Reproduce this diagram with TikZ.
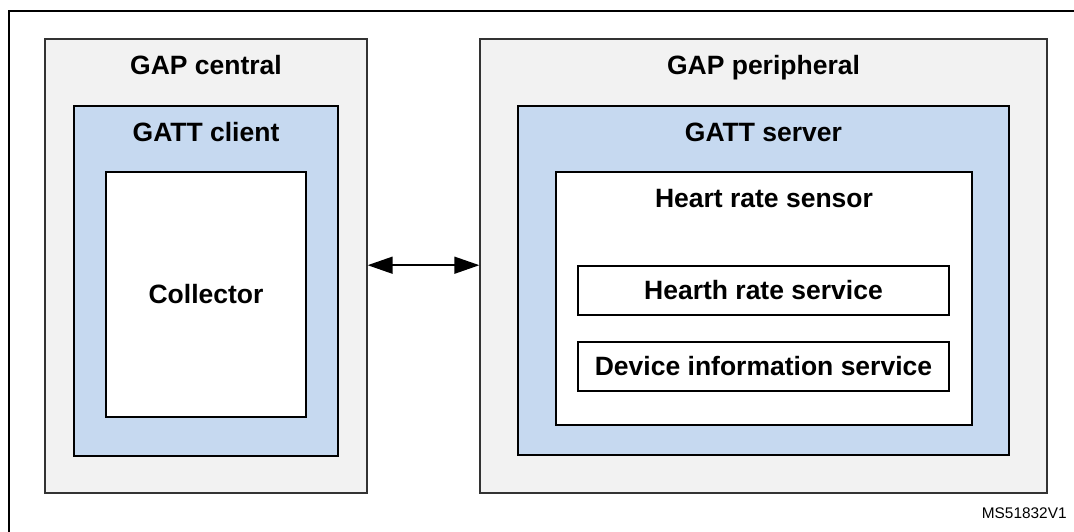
\documentclass[tikz,border=0pt]{standalone}
\usepackage{fontspec}
\setmainfont{Liberation Sans}
\usepackage{xcolor}
\usepackage{tikz}
\usetikzlibrary{arrows.meta}
\definecolor{gapgray}{HTML}{F2F2F2}
\definecolor{gattblue}{HTML}{C6D9F0}

\begin{document}
\begin{tikzpicture}[x=1pt,y=-1pt,thick]
    % `gapbox' is used for the two GAP roles (grey).
    % `gattbox' is used for the GATT client/server (blue).
    % `appbox' is used for the white boxes inside them.
    \tikzstyle{gapbox} = [draw=black!80,fill=gapgray,line width=1.3pt,inner sep=0pt]
    \tikzstyle{gattbox} = [draw=black,fill=gattblue,line width=1.6pt,inner sep=0pt]
    \tikzstyle{appbox} = [draw=black,fill=white,line width=1.6pt,inner sep=0pt,
        font=\fontsize{26.5}{30}\selectfont\bfseries]
    \tikzstyle{title} = [anchor=base,inner sep=0pt,font=\fontsize{26.5}{30}\selectfont\bfseries]
    %
    \useasboundingbox (0,0) rectangle (1074,531);
    % Outer frame, cut off by the page on the right and at the bottom.
    \node[draw,line width=2.4pt,inner sep=0pt,minimum width=1100pt,minimum height=560pt,
        anchor=north west] (frame) at (8,10) {};
    %
    % Left side: central.
    \node[gapbox,minimum width=322pt,minimum height=454pt] (gapc) at (206,266) {};
    \node[title] (gapctxt) at (206,74) {GAP central};
    \node[gattbox,minimum width=264pt,minimum height=350pt] (gattc) at (206,281) {};
    \node[title] (gattctxt) at (206,141) {GATT client};
    \node[appbox,minimum width=200pt,minimum height=245pt] (coll) at (206,294.5) {Collector};
    %
    % Right side: peripheral.
    \node[gapbox,minimum width=567pt,minimum height=454pt] (gapp) at (763.5,266) {};
    \node[title] (gapptxt) at (763.5,74) {GAP peripheral};
    \node[gattbox,minimum width=491pt,minimum height=349pt] (gatts) at (763.5,280.5) {};
    \node[title] (gattstxt) at (763.5,141) {GATT server};
    \node[appbox,minimum width=416pt,minimum height=253pt] (hrs) at (764,298.5) {};
    \node[title] (hrstxt) at (764,207) {Heart rate sensor};
    \node[appbox,minimum width=371pt,minimum height=49pt] (hrsvc) at (763.5,290.5) {Hearth rate service};
    \node[appbox,minimum width=371pt,minimum height=49pt] (dis) at (763.5,366.5) {Device information service};
    %
    % Link between the two roles.
    \draw[line width=1.5pt,{Triangle[length=25pt,width=17pt]}-{Triangle[length=25pt,width=17pt]}]
        (gapc.east |- hrsvc.north) -- (gapp.west |- hrsvc.north);
    %
    \node[anchor=base east,inner sep=0pt,font=\fontsize{15.4}{18}\selectfont] (ref) at (1067,518) {MS51832V1};
\end{tikzpicture}
\end{document}
